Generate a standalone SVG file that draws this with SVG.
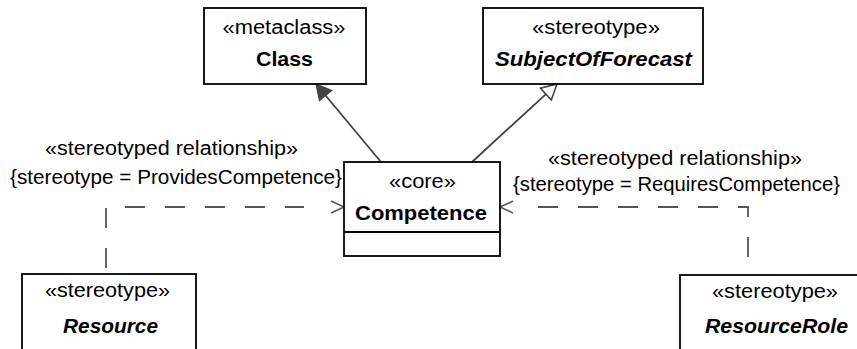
<svg xmlns="http://www.w3.org/2000/svg" width="857" height="349" viewBox="0 0 857 349">
<style>
.box{fill:#fff;stroke:#000;stroke-width:1.8}
.t{font-family:"Liberation Sans",Arial,sans-serif;font-size:20px;fill:#000;text-anchor:middle}
.b{font-weight:bold}
.bi{font-weight:bold;font-style:italic}
.ln{fill:none;stroke:#444;stroke-width:1.8}
.dash{fill:none;stroke:#555;stroke-width:1.8;stroke-dasharray:20 20}
.open{fill:none;stroke:#555;stroke-width:1.6}
</style>
<rect width="857" height="349" fill="#fff"/>
<g id="connectors">
  <path class="ln" d="M381,162 L325.6,95.5"/>
  <polygon points="316,84 331.7,90.4 319.5,100.6" fill="#444" stroke="#444" stroke-width="1.2"/>
  <path class="ln" d="M472,162 L545.9,94.1"/>
  <polygon points="557,84 551.3,100 540.5,88.2" fill="#fff" stroke="#444" stroke-width="1.6"/>
  <path class="dash" d="M106,274 V207 H304" stroke-dashoffset="34"/>
  <polyline class="open" points="331,201 344,207 331,213"/>
  <path class="dash" d="M748,275 V207 H520" stroke-dashoffset="22"/>
  <polyline class="open" points="513,201 500,207 513,213"/>
  <text class="t" x="171.5" y="155" textLength="253" lengthAdjust="spacingAndGlyphs">«stereotyped relationship»</text>
  <text class="t" x="176" y="184" textLength="332" lengthAdjust="spacingAndGlyphs">{stereotype = ProvidesCompetence}</text>
  <text class="t" x="675" y="165" textLength="254" lengthAdjust="spacingAndGlyphs">«stereotyped relationship»</text>
  <text class="t" x="676.5" y="191" textLength="327" lengthAdjust="spacingAndGlyphs">{stereotype = RequiresCompetence}</text>
</g>
<g id="class">
  <rect class="box" x="204" y="8" width="162" height="76"/>
  <text class="t" x="284" y="34" textLength="123" lengthAdjust="spacingAndGlyphs">«metaclass»</text>
  <text class="t b" x="284.5" y="66" textLength="57" lengthAdjust="spacingAndGlyphs">Class</text>
</g>
<g id="subjectOfForecast">
  <rect class="box" x="483" y="8" width="220" height="76"/>
  <text class="t" x="596" y="34" textLength="128" lengthAdjust="spacingAndGlyphs">«stereotype»</text>
  <text class="t bi" x="593.5" y="66" textLength="197" lengthAdjust="spacingAndGlyphs">SubjectOfForecast</text>
</g>
<g id="competence">
  <rect class="box" x="344" y="162" width="156" height="94"/>
  <line x1="344" y1="232" x2="500" y2="232" stroke="#000" stroke-width="1.8"/>
  <text class="t" x="422.5" y="188" textLength="67" lengthAdjust="spacingAndGlyphs">«core»</text>
  <text class="t b" x="421" y="220" textLength="132" lengthAdjust="spacingAndGlyphs">Competence</text>
</g>
<g id="resource">
  <rect class="box" x="22" y="274" width="174" height="100"/>
  <text class="t" x="107.5" y="297" textLength="125" lengthAdjust="spacingAndGlyphs">«stereotype»</text>
  <text class="t bi" x="110.5" y="333" textLength="95" lengthAdjust="spacingAndGlyphs">Resource</text>
</g>
<g id="resourceRole">
  <rect class="box" x="680" y="275" width="192" height="100"/>
  <text class="t" x="775" y="298" textLength="126" lengthAdjust="spacingAndGlyphs">«stereotype»</text>
  <text class="t bi" x="776.5" y="333" textLength="143" lengthAdjust="spacingAndGlyphs">ResourceRole</text>
</g>
</svg>
